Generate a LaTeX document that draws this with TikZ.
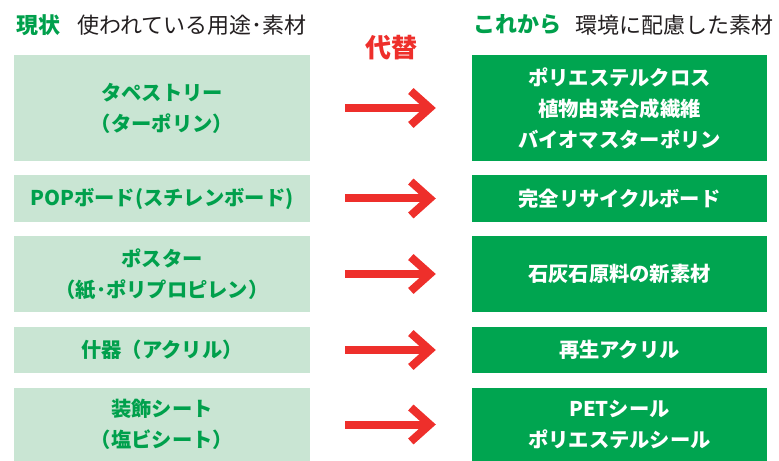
\documentclass[tikz,border=0pt]{standalone}
\usepackage{fontspec}
\setmainfont{Noto Sans CJK JP}
\definecolor{lightg}{HTML}{C9E5D3}
\definecolor{darkg}{HTML}{00A550}
\definecolor{textg}{HTML}{00A04C}
\definecolor{redc}{HTML}{EE2F2B}
\definecolor{headk}{HTML}{231F20}
\tikzset{
  oldbox/.style={fill=lightg, draw=none, minimum width=296bp, text width=290bp, align=center, inner sep=0pt,
    text=textg, font=\fontsize{20.3bp}{31bp}\selectfont\bfseries},
  newbox/.style={fill=darkg, draw=none, minimum width=295bp, text width=289bp, align=center, inner sep=0pt,
    text=white, font=\fontsize{20.3bp}{31bp}\selectfont\bfseries},
  redline/.style={draw=redc, line width=8bp},
  headg/.style={text=textg, font=\fontsize{22bp}{26bp}\selectfont\bfseries, inner sep=0pt, anchor=west},
  headb/.style={text=headk, font=\fontsize{22bp}{26bp}\selectfont, inner sep=0pt, anchor=west},
}
\begin{document}
\begin{tikzpicture}[x=1bp,y=-1bp]
\useasboundingbox (0,0) rectangle (779,461);
% headers
\node[headg] (h1) at (16,25) {現状};
\node[headb] (h2) at (77,25) {使われている用途･素材};
\node[headg] (h3) at (473,25) {これから};
\node[headb] (h4) at (575,25) {環境に配慮した素材};
\node[text=redc, font=\fontsize{26bp}{30bp}\selectfont\bfseries, inner sep=0pt] (sub) at (391,48) {代替};
% rows: centers and heights
\node[oldbox, minimum height=106bp] (l1) at (162,108) {タペストリー\\（ターポリン）};
\node[newbox, minimum height=106bp] (r1) at (619.5,108) {ポリエステルクロス\\植物由来合成繊維\\バイオマスターポリン};
\node[oldbox, minimum height=47bp] (l2) at (162,198.5) {POPボード(スチレンボード)};
\node[newbox, minimum height=47bp] (r2) at (619.5,198.5) {完全リサイクルボード};
\node[oldbox, minimum height=76bp] (l3) at (162,274) {ポスター\\（紙･ポリプロピレン）};
\node[newbox, minimum height=76bp] (r3) at (619.5,274) {石灰石原料の新素材};
\node[oldbox, minimum height=46bp] (l4) at (162,350) {什器（アクリル）};
\node[newbox, minimum height=46bp] (r4) at (619.5,350) {再生アクリル};
\node[oldbox, minimum height=73bp] (l5) at (162,424.5) {装飾シート\\（塩ビシート）};
\node[newbox, minimum height=73bp] (r5) at (619.5,424.5) {PETシール\\ポリエステルシール};
% arrows
\foreach \i in {1,...,5}{
  \coordinate (s\i) at ([xshift=35bp]l\i.east);
  \coordinate (e\i) at ([xshift=-42bp]r\i.west);
  \draw[redline, line cap=butt] (s\i) -- ([xshift=-4bp]e\i);
  \draw[redline, line cap=butt, line join=miter] ([shift={(-19bp,-17bp)}]e\i) -- (e\i) -- ([shift={(-19bp,17bp)}]e\i);
}
\end{tikzpicture}
\end{document}
